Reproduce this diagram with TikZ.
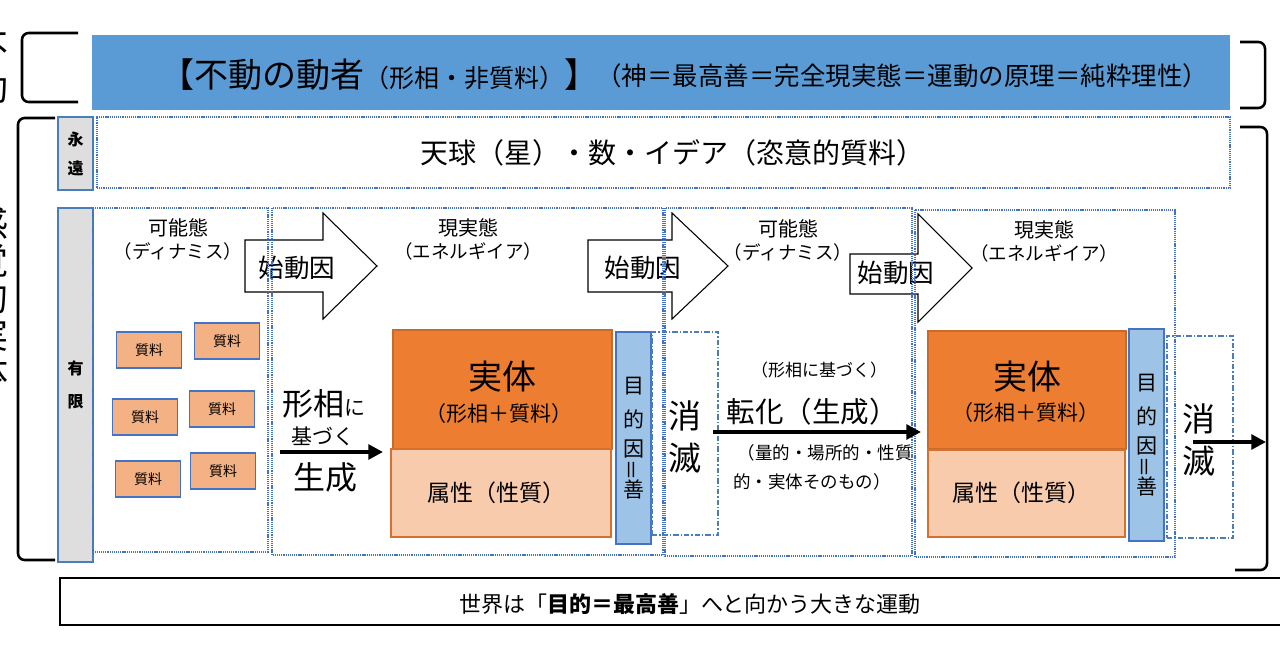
\documentclass[tikz,border=0pt]{standalone}
\usepackage{fontspec}
\setmainfont{Noto Sans CJK JP}
\usepackage{graphicx}
\usetikzlibrary{arrows.meta}
\definecolor{bar}{HTML}{5B9BD5}
\definecolor{dotb}{HTML}{4472C4}
\definecolor{dashb}{HTML}{4A7EBB}
\definecolor{sub}{HTML}{ED7D31}
\definecolor{attr}{HTML}{F8CBAD}
\definecolor{mat}{HTML}{F4B183}
\definecolor{goal}{HTML}{9DC3E6}
\definecolor{lab}{HTML}{DEDEDE}
% font size given in pixels of the picture, \pxl also takes the line ratio
\newcommand{\px}[1]{\fontsize{\fpeval{0.75*#1}pt}{\fpeval{0.9*#1}pt}\selectfont}
\newcommand{\pxl}[2]{\fontsize{\fpeval{0.75*#2}pt}{\fpeval{0.75*#2*#1}pt}\selectfont}

\begin{document}
\begin{tikzpicture}[x=0.75pt, y=-0.75pt,
    every node/.style={inner sep=0pt},
    sz/.style 2 args={minimum width=#1*0.75pt, minimum height=#2*0.75pt},
    panel/.style={draw=dotb, line width=1pt, dash pattern=on 0.9pt off 0.7pt},
    metsu/.style={draw=dashb, line width=0.8pt, dash pattern=on 4pt off 1.5pt on 1pt off 1.5pt},
    labbox/.style={draw=dashb, fill=lab, line width=0.8pt, align=center},
    matbox/.style={draw=dotb, fill=mat, line width=0.8pt, sz={65}{36}, font=\px{14}},
    subbox/.style={draw=sub!85!black, fill=sub, line width=0.8pt},
    attrbox/.style={draw=sub!90!black, fill=attr, line width=0.8pt},
    goalbox/.style={draw=dotb, fill=goal, line width=0.8pt},
    barrow/.style={draw=black, fill=white, line width=0.8pt},
    bracket/.style={line width=1.9pt, rounded corners=5pt},
    thickarr/.style={line width=3pt, -{Triangle[length=11pt,width=11pt]}}]
\useasboundingbox (0,0) rectangle (1280,670);

% top bar
\node[fill=bar, sz={1138}{75}] (bar) at (661,72.5) {};
\node[anchor=west] (fudo) at (160,75) {\px{34}【不動の動者\px{25}（形相・非質料）\px{34}】};
\node (kami) at (902,76) {\px{25.5}（神＝最高善＝完全現実態＝運動の原理＝純粋理性）};

% brackets
\draw[bracket] (78,33) -- (22,33) -- (22,102) -- (78,102);
\draw[bracket] (55,118) -- (18,118) -- (18,560) -- (55,560);
\draw[bracket] (1240,42) -- (1265,42) -- (1265,108) -- (1240,108);
\draw[bracket] (1240,127) -- (1267,127) -- (1267,570) -- (1235,570);
\node[font=\pxl{1.1}{36}, align=center] (fd) at (-9,68) {不\\動};
\node[font=\pxl{1.03}{36}, align=center] (kk) at (-9,298) {感\\覚\\的\\実\\体};

% eternal / finite
\node[labbox, sz={35}{73}, font=\pxl{1.8}{16}\bfseries] (eien) at (75.5,153.5) {永\\遠};
\node[labbox, sz={35}{354}, font=\pxl{2.1}{16}\bfseries] (yugen) at (75.5,385) {有\\限};
\node[panel, sz={1133}{71}] (tenkyu) at (663.5,152.5) {};
\node[font=\px{28}] (tenkyut) at (672,153) {天球（星）・数・イデア（恣意的質料）};

% moving causes
\draw[barrow] (245,240) -- (323,240) -- (323,213) -- (377,266) -- (323,319) -- (323,292) -- (245,292) -- cycle;
\draw[barrow] (588,240) -- (672,240) -- (672,213) -- (728,266) -- (672,319) -- (672,292) -- (588,292) -- cycle;
\draw[barrow] (850,254) -- (918,254) -- (918,214) -- (972,268) -- (918,322) -- (918,294) -- (850,294) -- cycle;
\node[font=\px{25.5}] (sd1) at (297,268) {始動因};
\node[font=\px{25.5}] (sd2) at (643,268) {始動因};
\node[font=\px{25.5}] (sd3) at (896,273) {始動因};

% panels
\draw[panel] (93,208) rectangle (268,552);
\draw[panel] (272,208) rectangle (663,555);
\draw[panel] (665,208) rectangle (912,556);
\draw[panel] (915,210) rectangle (1175,557);
\node[font=\px{20}] (kn1) at (178,228) {可能態};
\node[font=\px{18.5}] (dy1) at (178,251) {（ディナミス）};
\node[font=\px{20}] (gj2) at (468,228) {現実態};
\node[font=\px{18.5}] (en2) at (468,251) {（エネルギイア）};
\node[font=\px{20}] (kn3) at (788,229) {可能態};
\node[font=\px{18.5}] (dy3) at (788,252) {（ディナミス）};
\node[font=\px{20}] (gj4) at (1044,230) {現実態};
\node[font=\px{18.5}] (en4) at (1044,253) {（エネルギイア）};

% matter
\node[matbox] (matA) at (149,350) {質料};
\node[matbox] (matB) at (227,341) {質料};
\node[matbox] (matC) at (145,417) {質料};
\node[matbox] (matD) at (222,409) {質料};
\node[matbox] (matE) at (148,479) {質料};
\node[matbox] (matF) at (223,471) {質料};

% substances
\node[subbox, sz={219}{119}] (sub2) at (502.5,389.5) {};
\node[attrbox, sz={220}{88}] (attr2) at (501,493) {};
\node[goalbox, sz={35}{212}] (goal2) at (633.5,438) {};
\node[metsu, sz={66}{203}] (metsu2) at (685,433.5) {};
\node[subbox, sz={198}{118}] (sub4) at (1027,390) {};
\node[attrbox, sz={197}{87}] (attr4) at (1026.5,493.5) {};
\node[goalbox, sz={35}{212}] (goal4) at (1146.5,435) {};
\node[metsu, sz={66}{202}] (metsu4) at (1200,437) {};

\node[font=\px{34}] (jt2) at (502,377) {実体};
\node[font=\px{21}] (kt2) at (499,414) {（形相＋質料）};
\node[font=\px{23}] (zs2) at (496,493) {属性（性質）};
\node[font=\px{34}] (jt4) at (1027,377) {実体};
\node[font=\px{21}] (kt4) at (1026,413) {（形相＋質料）};
\node[font=\px{23}] (zs4) at (1021,493) {属性（性質）};
\foreach \c/\y [count=\i] in {目/386,的/419,因/449,{\rotatebox{90}{＝}}/470,善/489} {
  \node[font=\px{21}] (gA\i) at (633.5,\y) {\c};
  \node[font=\px{21}] (gB\i) at (1146.5,\y-3) {\c};
}
\node[font=\pxl{1.25}{33}, align=center] (me2) at (685,437) {消\\滅};
\node[font=\pxl{1.25}{33}, align=center] (me4) at (1199,440) {消\\滅};

% generation
\node (kei) at (324,404) {\px{31}形相\px{21}に};
\node[font=\px{21}] (motozuku) at (323,436) {基づく};
\node[font=\px{32}] (seisei) at (325,477) {生成};
\coordinate (gs0) at (280,452);
\coordinate (gs1) at (383,452);
\draw[thickarr] (gs0) -- (gs1);

% change
\node[font=\px{17}] (kt) at (819,370) {（形相に基づく）};
\node[font=\px{28.5}] (tenka) at (812,412) {転化（生成）};
\node[font=\px{17.5}] (ryo1) at (825,453) {（量的・場所的・性質};
\node[font=\px{17.5}] (ryo2) at (812,482) {的・実体そのもの）};
\coordinate (tk0) at (713,432);
\coordinate (tk1) at (921,432);
\draw[thickarr] (tk0) -- (tk1);
\coordinate (ms0) at (1193,442);
\coordinate (ms1) at (1266,442);
\draw[thickarr] (ms0) -- (ms1);

% world
\node[draw=black, line width=1pt, sz={1222}{47}] (world) at (671,601.5) {};
\node[font=\px{22}] (worldt) at (690,604) {世界は「{\bfseries 目的＝最高善}」へと向かう大きな運動};
\end{tikzpicture}
\end{document}
